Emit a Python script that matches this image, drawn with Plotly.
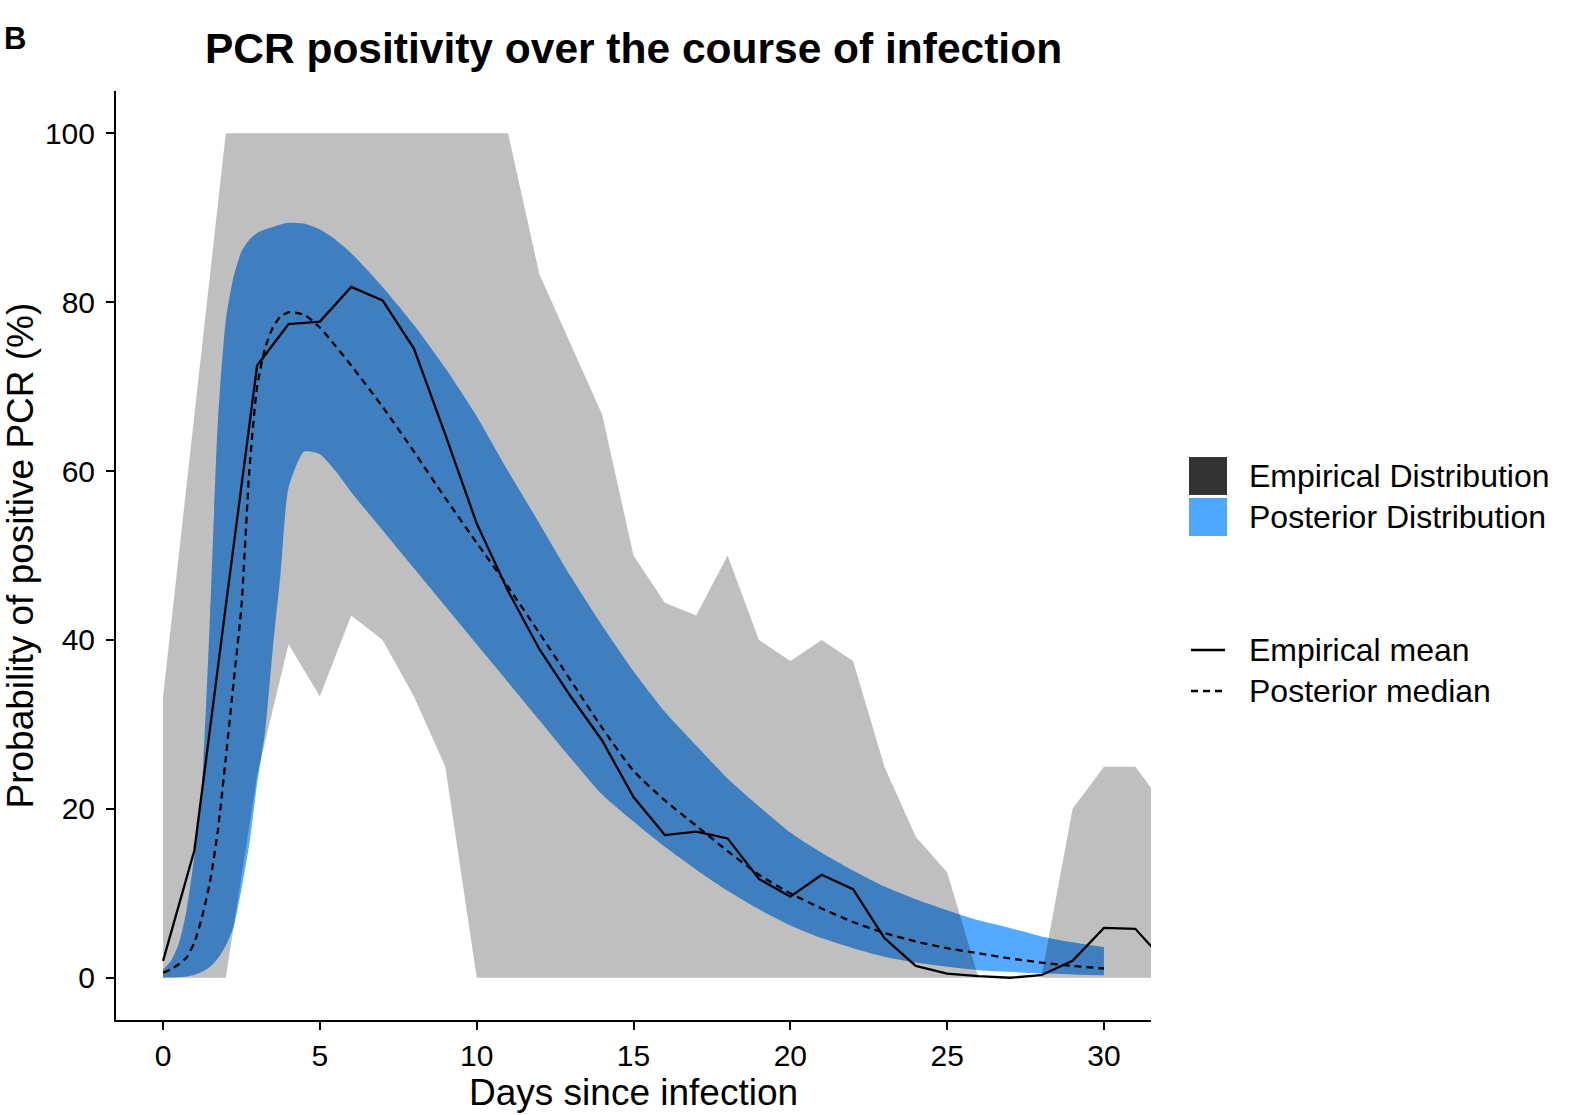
import plotly.graph_objects as go

# ---------------- data ----------------
emp_x = list(range(0, 33))
emp_lo = [0, 0, 0, 24, 39.5, 33.3, 42.9, 40, 33.3, 25, 0, 0, 0, 0, 0, 0, 0, 0, 0, 0,
          0, 0, 0, 0, 0, 0, 0, 0, 0, 0, 0, 0, 0]
emp_hi = [33.3, 66.7, 100, 100, 100, 100, 100, 100, 100, 100, 100, 100, 83.3, 75, 66.7, 50,
          44.4, 42.9, 50, 40, 37.5, 40, 37.5, 25, 16.7, 12.5, 0, 0, 0, 20, 25, 25, 20]
emp_mean = [2.0, 15.1, 44, 72.5, 77.4, 77.7, 81.8, 80.2, 74.5, 64.3, 53.8, 45.8, 38.9, 33.3,
            28.1, 21.4, 16.9, 17.3, 16.5, 11.7, 9.6, 12.2, 10.5, 4.7, 1.4, 0.5, 0.2, 0.0,
            0.3, 2.0, 5.9, 5.8, 1.7]

post_x = [0, 0.25, 0.5, 0.75, 1, 1.25, 1.5, 1.75, 2, 2.25, 2.5, 2.75, 3, 3.25, 3.5, 3.75,
          4, 4.5, 5, 5.5, 6, 7, 8, 9, 10, 11, 12, 13, 14, 15, 16, 17, 18, 19, 20, 21, 22,
          23, 24, 25, 26, 27, 28, 29, 30]
post_hi = [1.0, 2.0, 4.0, 8.0, 14.5, 23.5, 43, 66, 77.8, 83, 86, 87.4, 88.2, 88.6, 88.9,
           89.2, 89.4, 89.3, 88.6, 87.4, 85.8, 81.8, 77.3, 72.2, 66.5, 60, 53.8, 47.5, 41.7,
           36.3, 31.5, 27.5, 23.6, 20.3, 17.2, 14.8, 12.7, 10.8, 9.3, 8.0, 6.8, 5.9, 4.9,
           4.2, 3.6]
post_lo = [0, 0.02, 0.05, 0.15, 0.35, 0.7, 1.3, 2.3, 3.8, 6.0, 10.5, 15.8, 23, 29, 39,
           48, 58, 62.3, 62, 60, 57.5, 53, 48.5, 44, 39.5, 35, 30.5, 26, 21.7, 18.5, 15.5,
           12.8, 10.3, 8.1, 6.2, 4.7, 3.5, 2.5, 1.8, 1.3, 0.9, 0.7, 0.5, 0.4, 0.3]
post_med = [0.6, 1.0, 1.6, 2.4, 4.2, 7.3, 11.4, 17.5, 26, 35, 44, 60, 70, 74.5, 77, 78.3,
            78.8, 78.5, 77, 74.8, 72.5, 67.6, 62.3, 56.8, 51.5, 46.3, 40.8, 35.2, 29.6,
            24.5, 21, 18, 15, 12.2, 10, 8.2, 6.6, 5.3, 4.3, 3.5, 2.9, 2.3, 1.8, 1.4, 1.1]

x_ticks = [0, 5, 10, 15, 20, 25, 30]
y_ticks = [0, 20, 40, 60, 80, 100]
legend_fill = ["Empirical Distribution", "Posterior Distribution"]
legend_line = ["Empirical mean", "Posterior median"]

# ---------------- style ----------------
FONT = "Liberation Sans, Arial, Helvetica, sans-serif"
BLUE = "#55AAFF"
GREY = "rgba(0,0,0,0.25)"
W, H = 1579, 1115
L, R, T, B = 116, 428, 91, 95
PW, PH = W - L - R, H - T - B


def px(xp):
    return (xp - L) / PW


def py(yp):
    return (H - B - yp) / PH


fig = go.Figure()

# posterior band
fig.add_trace(go.Scatter(x=post_x, y=post_lo, mode="lines", line=dict(width=0, shape="spline", smoothing=0.6),
                         showlegend=False, hoverinfo="skip"))
fig.add_trace(go.Scatter(x=post_x, y=post_hi, mode="lines", line=dict(width=0, shape="spline", smoothing=0.6),
                         fill="tonexty", fillcolor=BLUE, showlegend=False, hoverinfo="skip"))
# empirical band
fig.add_trace(go.Scatter(x=emp_x, y=emp_lo, mode="lines", line=dict(width=0),
                         showlegend=False, hoverinfo="skip"))
fig.add_trace(go.Scatter(x=emp_x, y=emp_hi, mode="lines", line=dict(width=0),
                         fill="tonexty", fillcolor=GREY, showlegend=False, hoverinfo="skip"))
# lines
fig.add_trace(go.Scatter(x=emp_x, y=emp_mean, mode="lines", line=dict(color="black", width=2.3),
                         showlegend=False))
fig.add_trace(go.Scatter(x=post_x, y=post_med, mode="lines",
                         line=dict(color="black", width=2.3, dash="7px,5px", shape="spline", smoothing=0.6),
                         showlegend=False))

axis_common = dict(showgrid=False, zeroline=False, showline=True, linecolor="black", linewidth=2,
                   ticks="outside", ticklen=8, tickwidth=2, tickcolor="black",
                   tickfont=dict(family=FONT, size=30, color="black"))
fig.update_xaxes(range=[-1.5, 31.5], tickvals=x_ticks, ticktext=[str(v) for v in x_ticks], **axis_common)
fig.update_yaxes(range=[-5, 105], tickvals=y_ticks, ticktext=[str(v) for v in y_ticks],
                 ticklabelstandoff=5, **axis_common)

ann = []
shapes = []
# axis titles
ann.append(dict(text="Days since infection", xref="paper", yref="paper", x=0.5, y=py(1092),
                showarrow=False, font=dict(family=FONT, size=37, color="black"), xanchor="center", yanchor="middle"))
ann.append(dict(text="Probability of positive PCR (%)", xref="paper", yref="paper", x=px(20), y=0.5,
                textangle=-90, showarrow=False, font=dict(family=FONT, size=37, color="black"),
                xanchor="center", yanchor="middle"))
# panel tag
ann.append(dict(text="<b>B</b>", xref="paper", yref="paper", x=px(2), y=py(39), showarrow=False,
                font=dict(family=FONT, size=31, color="black"), xanchor="left", yanchor="middle"))

# legend (fill keys)
key_cols = ["#333333", "#4DA6FF"]
key_y = [476, 517]
for name, col, yc in zip(legend_fill, key_cols, key_y):
    shapes.append(dict(type="rect", xref="paper", yref="paper", x0=px(1189), x1=px(1227),
                       y0=py(yc - 19), y1=py(yc + 19), fillcolor=col, line=dict(width=0)))
    ann.append(dict(text=name, xref="paper", yref="paper", x=px(1247), y=py(yc), showarrow=False,
                    font=dict(family=FONT, size=32, color="black"), xanchor="left", yanchor="middle"))
# legend (line keys)
line_y = [650, 691]
dashes = ["solid", "7px,5px"]
for name, d, yc in zip(legend_line, dashes, line_y):
    shapes.append(dict(type="line", xref="paper", yref="paper", x0=px(1191), x1=px(1225),
                       y0=py(yc), y1=py(yc), line=dict(color="black", width=2.3, dash=d)))
    ann.append(dict(text=name, xref="paper", yref="paper", x=px(1247), y=py(yc), showarrow=False,
                    font=dict(family=FONT, size=32, color="black"), xanchor="left", yanchor="middle"))

fig.update_layout(
    width=W, height=H,
    margin=dict(l=L, r=R, t=T, b=B),
    plot_bgcolor="white", paper_bgcolor="white",
    showlegend=False,
    title=dict(text="<b>PCR positivity over the course of infection</b>", x=0.5, xref="paper",
               y=1 - 48 / H, yref="container", xanchor="center", yanchor="middle",
               font=dict(family=FONT, size=42.5, color="black")),
    annotations=ann, shapes=shapes,
)

fig.write_html("out.html", config={"displayModeBar": False},
               post_script="document.body.style.margin='0px';document.body.style.overflow='hidden';")
